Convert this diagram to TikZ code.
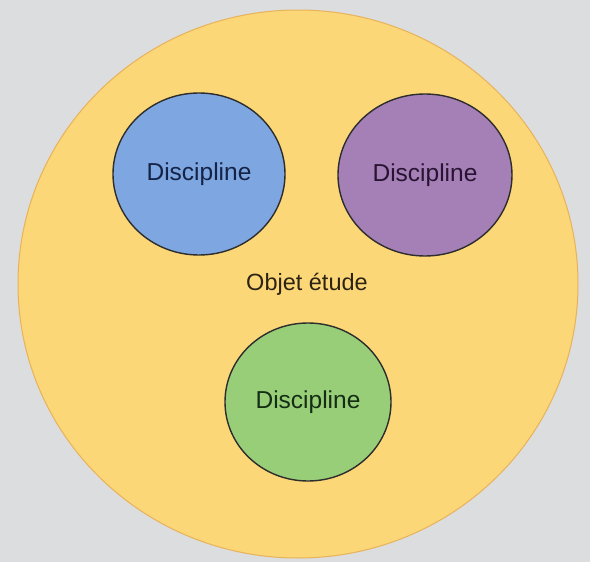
\documentclass[tikz,border=0pt]{standalone}
\usepackage{fontspec}
\setmainfont{Liberation Sans}
\usetikzlibrary{shapes.geometric}
\definecolor{bgc}{RGB}{220,221,223}
\definecolor{yel}{RGB}{251,215,120}
\definecolor{yelline}{RGB}{232,178,90}
\definecolor{blu}{RGB}{126,166,224}
\definecolor{pur}{RGB}{164,128,182}
\definecolor{gre}{RGB}{152,206,120}
\definecolor{ring}{RGB}{45,45,45}
\tikzset{
  disc/.style={ellipse, draw=ring, line width=1.4pt, inner sep=0pt, font=\fontsize{24.5}{28}\selectfont},
}
\begin{document}
\begin{tikzpicture}[x=1pt,y=-1pt]
\fill[bgc] (0,0) rectangle (590,562);
\useasboundingbox (0,0) rectangle (590,562);
\node[ellipse, fill=yel, draw=yelline, line width=1pt, minimum width=560, minimum height=548, inner sep=0pt] (obj) at (298,284) {};
\node[font=\fontsize{23.5}{28}\selectfont, text={rgb,255:red,45;green,35;blue,20}] (lab) at (307,284) {Objet étude};
\node[disc, fill=blu, minimum width=172, minimum height=162, text={rgb,255:red,20;green,35;blue,70}] (d1) at (199,174) {Discipline};
\node[disc, fill=pur, minimum width=174, minimum height=162, text={rgb,255:red,40;green,20;blue,50}] (d2) at (425,175) {Discipline};
\node[disc, fill=gre, minimum width=166, minimum height=158, text={rgb,255:red,20;green,45;blue,20}] (d3) at (308,402) {Discipline};
\end{tikzpicture}
\end{document}
